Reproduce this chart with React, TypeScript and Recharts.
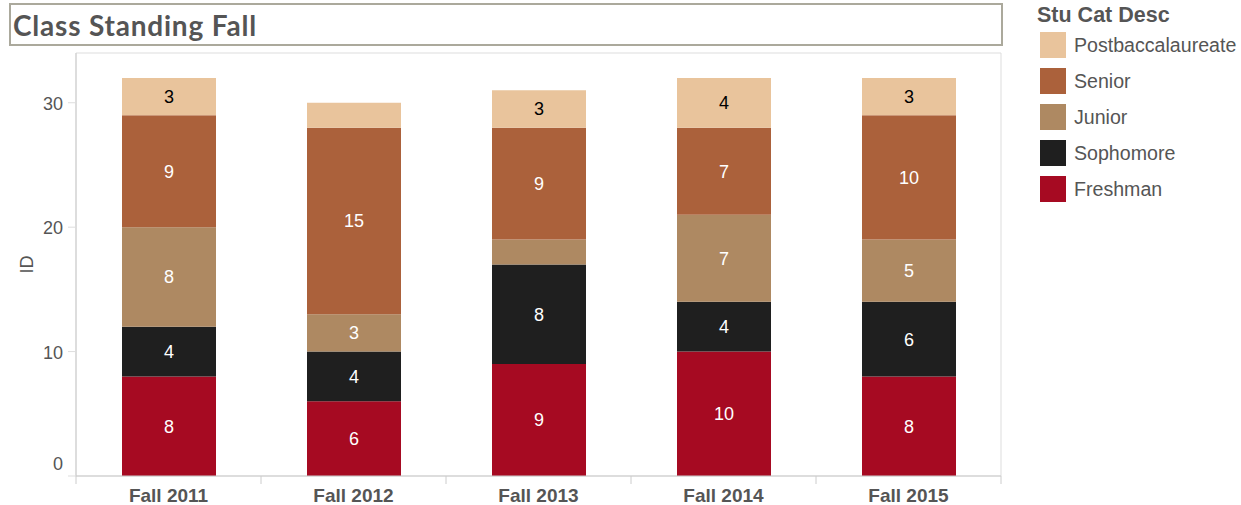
import { Bar, BarChart, LabelList, ReferenceArea, XAxis, YAxis } from 'recharts'

const categories = ['Fall 2011', 'Fall 2012', 'Fall 2013', 'Fall 2014', 'Fall 2015']
const freshman = [8, 6, 9, 10, 8]
const sophomore = [4, 4, 8, 4, 6]
const junior = [8, 3, 2, 7, 5]
const senior = [9, 15, 9, 7, 10]
const postbacc = [3, 2, 3, 4, 3]
const yTicks = [0, 10, 20, 30]

// bottom to top
const series = [
  { key: 'Freshman', values: freshman, color: '#a60a22', text: '#ffffff' },
  { key: 'Sophomore', values: sophomore, color: '#1f1f1f', text: '#ffffff' },
  { key: 'Junior', values: junior, color: '#ae8962', text: '#ffffff' },
  { key: 'Senior', values: senior, color: '#ab613b', text: '#ffffff' },
  { key: 'Postbaccalaureate', values: postbacc, color: '#e9c49c', text: '#000000' },
]

const data = categories.map((category, i) => {
  const row: Record<string, string | number> = { category }
  series.forEach((s) => (row[s.key] = s.values[i]))
  return row
})

const FONT = '"Liberation Sans", Arial, sans-serif'
const TEXT = '#555555'
const PLOT_LEFT = 76
const PLOT_RIGHT = 1001
const BAND = (PLOT_RIGHT - PLOT_LEFT) / categories.length

const XTick = ({ x, y, payload, index }: any) => (
  <g>
    <line x1={x - BAND / 2} x2={x - BAND / 2} y1={y} y2={y + 8} stroke="#cccccc" />
    {index === categories.length - 1 && (
      <line x1={x + BAND / 2} x2={x + BAND / 2} y1={y} y2={y + 8} stroke="#cccccc" />
    )}
    <text x={x} y={y + 19} textAnchor="middle" dominantBaseline="central" fontFamily={FONT} fontSize={19} fontWeight="bold" fill={TEXT}>
      {payload.value}
    </text>
  </g>
)

const YTick = ({ x, y, payload }: any) => (
  <text x={x} y={payload.value === 0 ? y - 12 : y + 1} textAnchor="end" dominantBaseline="central" fontFamily={FONT} fontSize={18} fill={TEXT}>
    {payload.value}
  </text>
)

export default function App() {
  return (
    <div style={{ position: 'absolute', left: 0, top: 0, width: 1241, height: 505, background: '#fff', fontFamily: FONT }}>
      <div
        style={{
          position: 'absolute', left: 9, top: 3, width: 990, height: 39,
          border: '2px solid #aba99c', display: 'flex', alignItems: 'center',
        }}
      >
        <span style={{ marginLeft: 2, fontFamily: 'Lato, sans-serif', fontWeight: 700, fontSize: 28, letterSpacing: 0.8, color: TEXT }}>
          Class Standing Fall
        </span>
      </div>

      <div style={{ position: 'absolute', left: 1037, top: 3 }}>
        <div style={{ fontWeight: 'bold', fontSize: 21.5, color: TEXT, lineHeight: '24px' }}>Stu Cat Desc</div>
        {[...series].reverse().map((s) => (
          <div key={s.key} style={{ display: 'flex', alignItems: 'center', height: 36, marginLeft: 3 }}>
            <div style={{ width: 26, height: 26, background: s.color, marginRight: 8 }} />
            <span style={{ fontSize: 19.6, color: TEXT }}>{s.key}</span>
          </div>
        ))}
      </div>

      <BarChart width={1241} height={505} data={data} margin={{ top: 53, right: 240, bottom: 0, left: 0 }}>
        <ReferenceArea y1={0} y2={34} fill="none" stroke="#dddddd" ifOverflow="visible" />
        <XAxis
          dataKey="category"
          height={29}
          axisLine={{ stroke: '#cccccc' }}
          tickLine={false}
          tickSize={0}
          tickMargin={0}
          tick={<XTick />}
          interval={0}
        />
        <YAxis
          width={76}
          domain={[0, 34]}
          ticks={yTicks}
          axisLine={{ stroke: '#cccccc' }}
          tickLine={{ stroke: '#dddddd' }}
          tickSize={8}
          tickMargin={5}
          tick={<YTick />}
          label={{
            content: ({ viewBox }: any) => (
              <text
                x={27}
                y={viewBox.y + viewBox.height / 2}
                transform={`rotate(-90 27 ${viewBox.y + viewBox.height / 2})`}
                textAnchor="middle"
                dominantBaseline="central"
                fontFamily={FONT}
                fontSize={18}
                fill={TEXT}
              >
                ID
              </text>
            ),
          }}
        />
        {series.map((s) => (
          <Bar key={s.key} dataKey={s.key} stackId="a" fill={s.color} barSize={94} isAnimationActive={false}>
            <LabelList
              dataKey={s.key}
              position="center"
              fill={s.text}
              fontSize={18}
              fontFamily={FONT}
              formatter={(v: any) => (Number(v) >= 3 ? v : '')}
            />
          </Bar>
        ))}
      </BarChart>
    </div>
  )
}
